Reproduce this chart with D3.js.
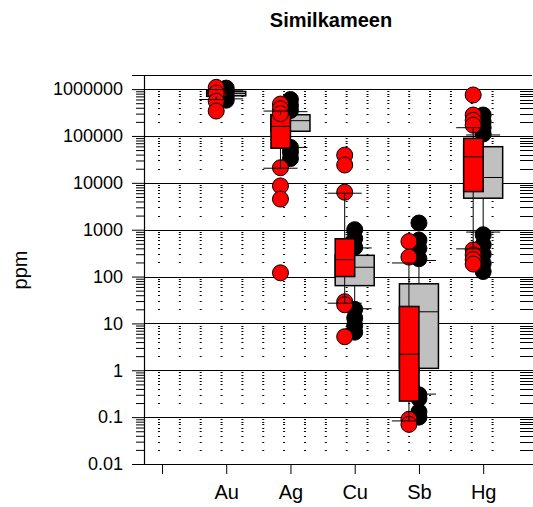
<!DOCTYPE html>
<html>
<head>
<meta charset="utf-8">
<script src="https://cdn.jsdelivr.net/npm/d3@7"></script>
<style>
  body { margin: 0; background: #fff; }
  svg { display: block; font-family: "Liberation Sans", Arial, sans-serif; }
</style>
</head>
<body>
<div id="chart"></div>
<script>
// categories along the x axis (first slot is empty)
const categories = ["", "Au", "Ag", "Cu", "Sb", "Hg"];
const elements = ["Au", "Ag", "Cu", "Sb", "Hg"];

// red series: box statistics (ppm)
const redQ1  = [700000, 55000, 100, 0.22, 6500];
const redMed = [820000, 160000, 230, 2.2, 36000];
const redQ3  = [920000, 285000, 640, 23, 89000];
const redLo  = [600000, 20500, 27, 0.083, 390];
const redHi  = [980000, 340000, 6000, 195, 150000];

// grey series: box statistics (ppm)
const grayQ1  = [720000, 126000, 64, 1.1, 4700];
const grayMed = [810000, 212000, 158, 17.7, 13000];
const grayQ3  = [890000, 284000, 284, 70, 59000];
const grayLo  = [620000, 57000, 20.6, 0.31, 890];
const grayHi  = [950000, 330000, 408, 220, 105000];

// individual samples
const redPoints = [
  [1090000, 820000, 550000, 340000],
  [480000, 380000, 300000, 21000, 8600, 4500, 120],
  [39000, 24000, 6300, 29, 25, 5.2],
  [560, 260, 0.09, 0.07],
  [750000, 280000, 215000, 170000, 370, 290, 230, 185]
];
const blackPoints = [
  [1050000, 880000, 700000, 580000],
  [600000, 450000, 350000, 57000, 45000, 33000],
  [1000, 650, 420, 20, 13, 9, 6.5],
  [1390, 600, 400, 240, 0.3, 0.25, 0.13, 0.1],
  [280000, 200000, 150000, 110000, 780, 480, 300, 190, 128]
];

const yTicks = [0.01, 0.1, 1, 10, 100, 1000, 10000, 100000, 1000000];
const yTickLabels = ["0.01", "0.1", "1", "10", "100", "1000", "10000", "100000", "1000000"];

const W = 533, H = 507;
const plotLeft = 144, plotRight = 532, plotTop = 75, plotBottom = 464;

const svg = d3.select('#chart').append('svg')
    .attr('width', W)
    .attr('height', H);

const x = d3.scaleLinear().domain([-0.28, 5.76]).range([plotLeft, plotRight]);
const y = d3.scaleLog().domain([0.01, 2e6]).range([plotBottom, plotTop]);

// minor tick values 2..9 per decade
const minors = [];
for (let e = -2; e <= 6; e++) {
    for (let m = 2; m <= 9; m++) {
        const v = m * Math.pow(10, e);
        if (v < 2e6) minors.push(v);
    }
}

// dotted minor grid
svg.append('g').selectAll('line')
    .data(minors)
    .enter().append('line')
    .attr('x1', 158).attr('x2', 512)
    .attr('y1', d => Math.round(y(d)) + 0.5)
    .attr('y2', d => Math.round(y(d)) + 0.5)
    .attr('stroke', '#000')
    .attr('stroke-width', 1)
    .attr('stroke-dasharray', '2,18.85');

// short minor ticks on the right edge
svg.append('g').selectAll('line')
    .data(minors.concat(yTicks))
    .enter().append('line')
    .attr('x1', 520).attr('x2', 533)
    .attr('y1', d => Math.round(y(d)) + 0.5)
    .attr('y2', d => Math.round(y(d)) + 0.5)
    .attr('stroke', '#000')
    .attr('stroke-width', 1);

// major grid lines
svg.append('g').selectAll('line')
    .data(yTicks.slice(1))
    .enter().append('line')
    .attr('x1', plotLeft).attr('x2', plotRight)
    .attr('y1', d => Math.round(y(d)) + 0.5)
    .attr('y2', d => Math.round(y(d)) + 0.5)
    .attr('stroke', '#000')
    .attr('stroke-width', 1.2);

// top border
svg.append('line')
    .attr('x1', 132).attr('x2', plotRight)
    .attr('y1', plotTop + 0.5).attr('y2', plotTop + 0.5)
    .attr('stroke', '#000').attr('stroke-width', 1.2);

// left axis
const yAxis = d3.axisLeft(y)
    .tickValues(yTicks)
    .tickSize(12)
    .tickPadding(9)
    .tickFormat((d, i) => yTickLabels[i]);

const gy = svg.append('g')
    .attr('transform', `translate(${plotLeft},0)`)
    .call(yAxis);
gy.select('.domain').remove();
gy.selectAll('text').attr('font-size', 18).attr('fill', '#000')
    .attr('font-family', '"Liberation Sans", Arial, sans-serif');

const yMinor = d3.axisLeft(y).tickValues(minors).tickSize(8).tickFormat('');
const gym = svg.append('g')
    .attr('transform', `translate(${plotLeft},0)`)
    .call(yMinor);
gym.select('.domain').remove();

svg.append('line')
    .attr('x1', plotLeft + 0.5).attr('x2', plotLeft + 0.5)
    .attr('y1', plotTop).attr('y2', plotBottom)
    .attr('stroke', '#000').attr('stroke-width', 1.2);

// bottom axis
const xAxis = d3.axisBottom(x)
    .tickValues(d3.range(categories.length))
    .tickSize(10)
    .tickPadding(11)
    .tickFormat(i => categories[i]);

const gx = svg.append('g')
    .attr('transform', `translate(0,${plotBottom})`)
    .call(xAxis);
gx.select('.domain').remove();
gx.selectAll('text').attr('font-size', 20).attr('fill', '#000')
    .attr('font-family', '"Liberation Sans", Arial, sans-serif');

svg.append('line')
    .attr('x1', plotLeft).attr('x2', plotRight)
    .attr('y1', plotBottom + 0.5).attr('y2', plotBottom + 0.5)
    .attr('stroke', '#000').attr('stroke-width', 1.2);

// title and axis label
svg.append('text')
    .attr('x', 331).attr('y', 27)
    .attr('text-anchor', 'middle')
    .attr('font-size', 20)
    .attr('font-weight', 'bold')
    .text('Similkameen');

svg.append('text')
    .attr('transform', 'translate(27,270) rotate(-90)')
    .attr('text-anchor', 'middle')
    .attr('font-size', 20)
    .text('ppm');

// plot marks
const plot = svg.append('g');
const R = 8;

function whisker(g, cx, lo, q1, q3, hi) {
    g.append('line').attr('x1', cx).attr('x2', cx)
        .attr('y1', y(q3)).attr('y2', y(hi))
        .attr('stroke', '#000').attr('stroke-width', 1);
    g.append('line').attr('x1', cx).attr('x2', cx)
        .attr('y1', y(q1)).attr('y2', y(lo))
        .attr('stroke', '#000').attr('stroke-width', 1);
    [lo, hi].forEach(v => {
        g.append('line').attr('x1', cx - 17).attr('x2', cx + 17)
            .attr('y1', y(v)).attr('y2', y(v))
            .attr('stroke', '#000').attr('stroke-width', 1);
    });
}

elements.forEach((el, i) => {
    const c = x(i + 1);
    const g = plot.append('g');

    // grey box
    g.append('rect')
        .attr('x', c - 19.5).attr('width', 39)
        .attr('y', y(grayQ3[i])).attr('height', y(grayQ1[i]) - y(grayQ3[i]))
        .attr('fill', '#c0c0c0').attr('stroke', '#000').attr('stroke-width', 1.5);
    g.append('line')
        .attr('x1', c - 19.5).attr('x2', c + 19.5)
        .attr('y1', y(grayMed[i])).attr('y2', y(grayMed[i]))
        .attr('stroke', '#000').attr('stroke-width', 1);

    // black samples
    g.selectAll('.blk')
        .data(blackPoints[i])
        .enter().append('circle')
        .attr('class', 'blk')
        .attr('cx', c).attr('cy', d => y(d)).attr('r', R)
        .attr('fill', '#000').attr('stroke', '#000').attr('stroke-width', 1);

    whisker(g, c, grayLo[i], grayQ1[i], grayQ3[i], grayHi[i]);

    // red box
    g.append('rect')
        .attr('x', c - 19.5).attr('width', 19.5)
        .attr('y', y(redQ3[i])).attr('height', y(redQ1[i]) - y(redQ3[i]))
        .attr('fill', '#ff0000').attr('stroke', '#000').attr('stroke-width', 1.5);
    g.append('line')
        .attr('x1', c - 19.5).attr('x2', c)
        .attr('y1', y(redMed[i])).attr('y2', y(redMed[i]))
        .attr('stroke', '#000').attr('stroke-width', 1);

    // red samples
    g.selectAll('.red')
        .data(redPoints[i])
        .enter().append('circle')
        .attr('class', 'red')
        .attr('cx', c - 10).attr('cy', d => y(d)).attr('r', R)
        .attr('fill', '#ff0000').attr('stroke', '#000').attr('stroke-width', 1);

    whisker(g, c - 10, redLo[i], redQ1[i], redQ3[i], redHi[i]);
});
</script>
</body>
</html>
